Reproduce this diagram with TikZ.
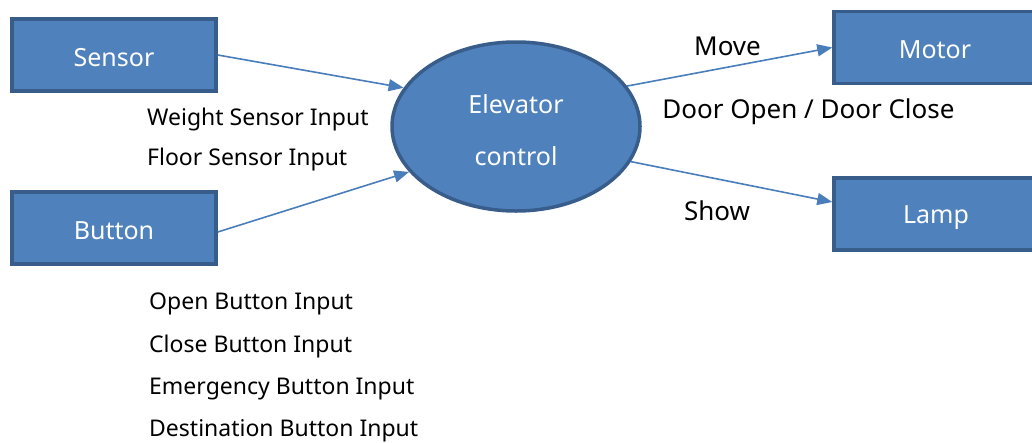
\documentclass[tikz,border=0pt]{standalone}
\usepackage{fontspec}
\setmainfont{Noto Sans}
\usetikzlibrary{arrows.meta,shapes.geometric}
\definecolor{boxfill}{HTML}{4F81BD}
\definecolor{boxline}{HTML}{385D8A}
\definecolor{arrowc}{HTML}{4A7EBB}
\newcommand{\lowered}[1]{\raisebox{-3pt}[\height][\depth]{#1}}
\tikzset{
  blockbox/.style={draw=boxline, fill=boxfill, line width=3.5pt, minimum width=204pt, minimum height=72pt, inner sep=0pt, text=white, font=\fontsize{25}{30}\selectfont},
  boxtext/.style={inner sep=0pt, text=white, font=\fontsize{25}{30}\selectfont},
  ctrlshape/.style={ellipse, draw=boxline, fill=boxfill, line width=3.5pt, minimum width=248pt, minimum height=169pt, inner sep=0pt, text=white, align=center, font=\fontsize{25}{52}\selectfont},
  flow/.style={draw=arrowc, line width=1.6pt, -{Triangle[length=15pt,width=12pt]}},
  leftlab/.style={anchor=west, inner sep=0pt, font=\fontsize{23}{28}\selectfont},
  rightlab/.style={anchor=center, inner sep=0pt, font=\fontsize{26}{30}\selectfont}
}
\begin{document}
\begin{tikzpicture}[x=1pt,y=-1pt]
\useasboundingbox (0,0) rectangle (1032,442);
\clip (0,0) rectangle (1032,442);
\node[blockbox] (sensor) at (114,55) {\lowered{Sensor}};
\node[blockbox] (button) at (114,228) {\lowered{Button}};
\node[blockbox] (motor) at (936,47.5) {};
\node[blockbox] (lamp) at (936,214) {};
\node[boxtext] (motortext) at (935,50) {Motor};
\node[boxtext] (lamptext) at (936,217.5) {Lamp};
\node[ctrlshape] (ctrl) at (516,126.5) {\raisebox{-4pt}[\height][\depth]{Elevator}\\\raisebox{-4pt}[\height][\depth]{control}};
\draw[flow] (sensor.east) -- (ctrl.161);
\draw[flow] ([yshift=-4pt]button.east) -- (ctrl.203);
\draw[flow] (ctrl.20) -- (motor.west);
\draw[flow] (ctrl.343) -- ([yshift=12pt]lamp.west);
\node[leftlab] (w) at (147,120) {Weight Sensor Input};
\node[leftlab] (f) at (147,160) {Floor Sensor Input};
\node[leftlab] (o) at (149,304) {Open Button Input};
\node[leftlab] (c) at (149,347) {Close Button Input};
\node[leftlab] (e) at (149,389) {Emergency Button Input};
\node[leftlab] (d) at (149,431) {Destination Button Input};
\node[rightlab] (mv) at (727.5,46.5) {Move};
\node[rightlab] (dr) at (808.5,111.5) {Door Open / Door Close};
\node[rightlab] (sh) at (717,210.5) {Show};
\end{tikzpicture}
\end{document}
